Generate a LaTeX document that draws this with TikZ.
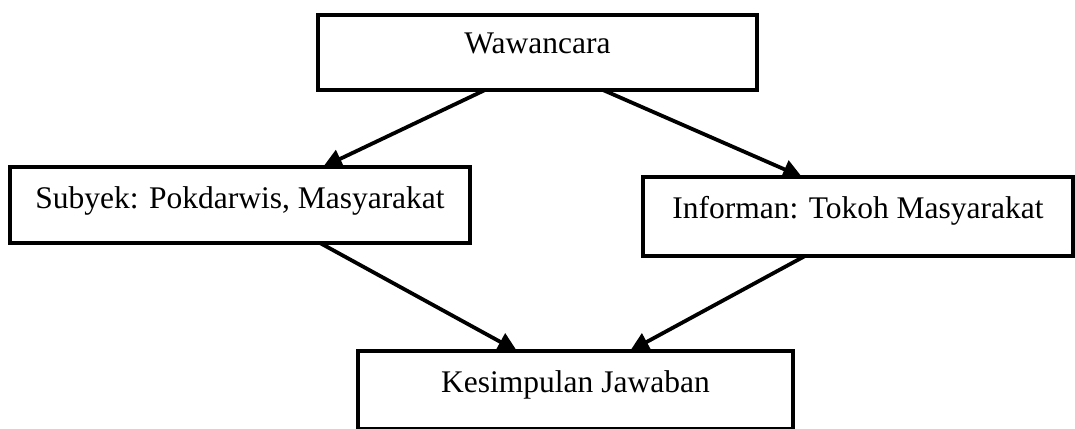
\documentclass[tikz,border=0pt]{standalone}
\usepackage{fontspec}
\setmainfont{Liberation Serif}
\usetikzlibrary{arrows.meta}
\begin{document}
\begin{tikzpicture}[x=1pt,y=-1pt,
  box/.style={draw=black,line width=3.8pt,rectangle,inner sep=0pt,outer sep=0pt,anchor=north west,fill=white},
  lbl/.style={anchor=base,inner sep=0pt,font=\fontsize{31.5}{38}\selectfont},
  arr/.style={line width=3.8pt,-{Triangle[length=19pt,width=19pt]}}]
\useasboundingbox (0,0) rectangle (1075,428);
\node[box,minimum width=439pt,minimum height=75pt] (top) at (318,15) {};
\node[box,minimum width=460pt,minimum height=76pt] (left) at (10,167) {};
\node[box,minimum width=430pt,minimum height=79pt] (right) at (643,177) {};
\node[box,minimum width=435pt,minimum height=78pt] (bottom) at (358,351) {};
\node[lbl] (ttop) at (537.5,54) {Wawancara};
\node[lbl] (tleft) at (240,208) {Subyek: Pokdarwis, Masyarakat};
\node[lbl] (tright) at (858,218) {Informan: Tokoh Masyarakat};
\node[lbl] (tbottom) at (575.5,392) {Kesimpulan Jawaban};
\draw[arr] ([xshift=167pt]top.south west) -- ([xshift=313pt]left.north west);
\draw[arr] ([xshift=285pt]top.south west) -- ([xshift=159pt]right.north west);
\draw[arr] ([xshift=310pt]left.south west) -- ([xshift=159pt]bottom.north west);
\draw[arr] ([xshift=162pt]right.south west) -- ([xshift=272pt]bottom.north west);
\end{tikzpicture}
\end{document}
